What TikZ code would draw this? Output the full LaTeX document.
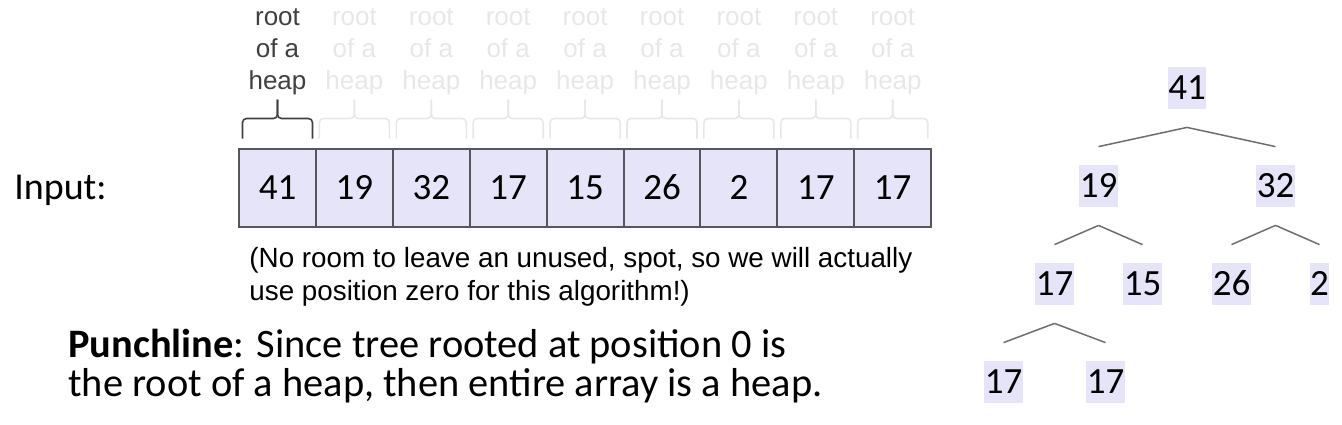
\documentclass[tikz,border=0pt]{standalone}
\usepackage{fontspec}
\setmainfont{Carlito}
\newfontfamily\arialfont{Liberation Sans}
\usepackage{xcolor}
\usepackage{tikz}
\usetikzlibrary{calc,positioning}

\definecolor{cellfill}{RGB}{230,228,248}
\definecolor{cellline}{RGB}{85,85,92}
\definecolor{ink}{RGB}{64,64,64}
\definecolor{faint}{RGB}{231,231,231}
\definecolor{branch}{RGB}{110,110,110}

\begin{document}
\begin{tikzpicture}[
	x=0.5pt, y=0.5pt,
	cell/.style={draw=cellline, line width=1pt, fill=cellfill, outer sep=0pt, inner sep=0pt,
		minimum width=38.45pt, minimum height=39pt, text height=11.8pt, text depth=0pt,
		font=\fontsize{18.5}{21}\selectfont},
	heaplabel/.style={align=center, inner sep=0pt, font=\arialfont\fontsize{13}{16}\selectfont},
	heapbrace/.style={line width=0.8pt, rounded corners=2pt},
	treenode/.style={fill=cellfill, inner xsep=0.3pt, inner ysep=0pt, minimum height=21pt,
		text height=11.8pt, text depth=0pt, font=\fontsize{18.5}{21}\selectfont},
	edge from parent/.style={draw=branch, line width=0.75pt},
	edge from parent path={($(\tikzparentnode.south)+(0,-18)$) -- ($(\tikzchildnode.north)+(0,18)$)},
	level distance=49pt,
	level 1/.style={sibling distance=88.5pt},
	level 2/.style={sibling distance=44pt},
	level 3/.style={sibling distance=51pt}
	]
	\useasboundingbox (0,0) rectangle (1342,-424);

	% array
	\node[cell] (c1) at (277.5,-187.5) {41};
	\foreach \v [count=\i from 2, remember=\i as \j (initially 1)] in {19,32,17,15,26,2,17,17}
		\node[cell, right=0pt of c\j] (c\i) {\v};

	\node[left=66pt of c1, yshift=-1.5pt, inner sep=0pt, font=\fontsize{19}{23}\selectfont] (input) {Input:};

	% braces and their labels
	\foreach \i/\col in {1/ink,2/faint,3/faint,4/faint,5/faint,6/faint,7/faint,8/faint,9/faint} {
		\draw[heapbrace, \col] ($(c\i.north)+(-35,10)$) |- ($(c\i.north)+(0,30)$) -- ++(0,19) coordinate (t\i);
		\draw[heapbrace, \col] ($(c\i.north)+(35,10)$) |- ($(c\i.north)+(0,30)$) -- ++(0,19);
		\node[heaplabel, text=\col, above=2pt of t\i] (l\i) {root\\of a\\heap};
	}

	\node[below right=10pt and 5pt of c1.south west, align=left, inner sep=0pt,
		font=\arialfont\fontsize{13.9}{16.5}\selectfont] (note)
		{(No room to leave an unused, spot, so we will actually\\use position zero for this algorithm!)};

	\node[anchor=north west, align=left, inner sep=0pt, font=\fontsize{20.2}{19.5}\selectfont] (punch) at (68,-329)
		{\textbf{Punchline}: Since tree rooted at position 0 is\\the root of a heap, then entire array is a heap.};

	% tree
	\node[treenode] (n41) at (1187,-88) {41}
	child { node[treenode] (n19) {19}
		child { node[treenode] (n17) {17}
			child { node[treenode] (n17l) {17} }
			child { node[treenode] (n17r) {17} }
		}
		child { node[treenode] (n15) {15} }
	}
	child { node[treenode] (n32) {32}
		child { node[treenode] (n26) {26} }
		child { node[treenode] (n2) {2} }
	};
\end{tikzpicture}
\end{document}
